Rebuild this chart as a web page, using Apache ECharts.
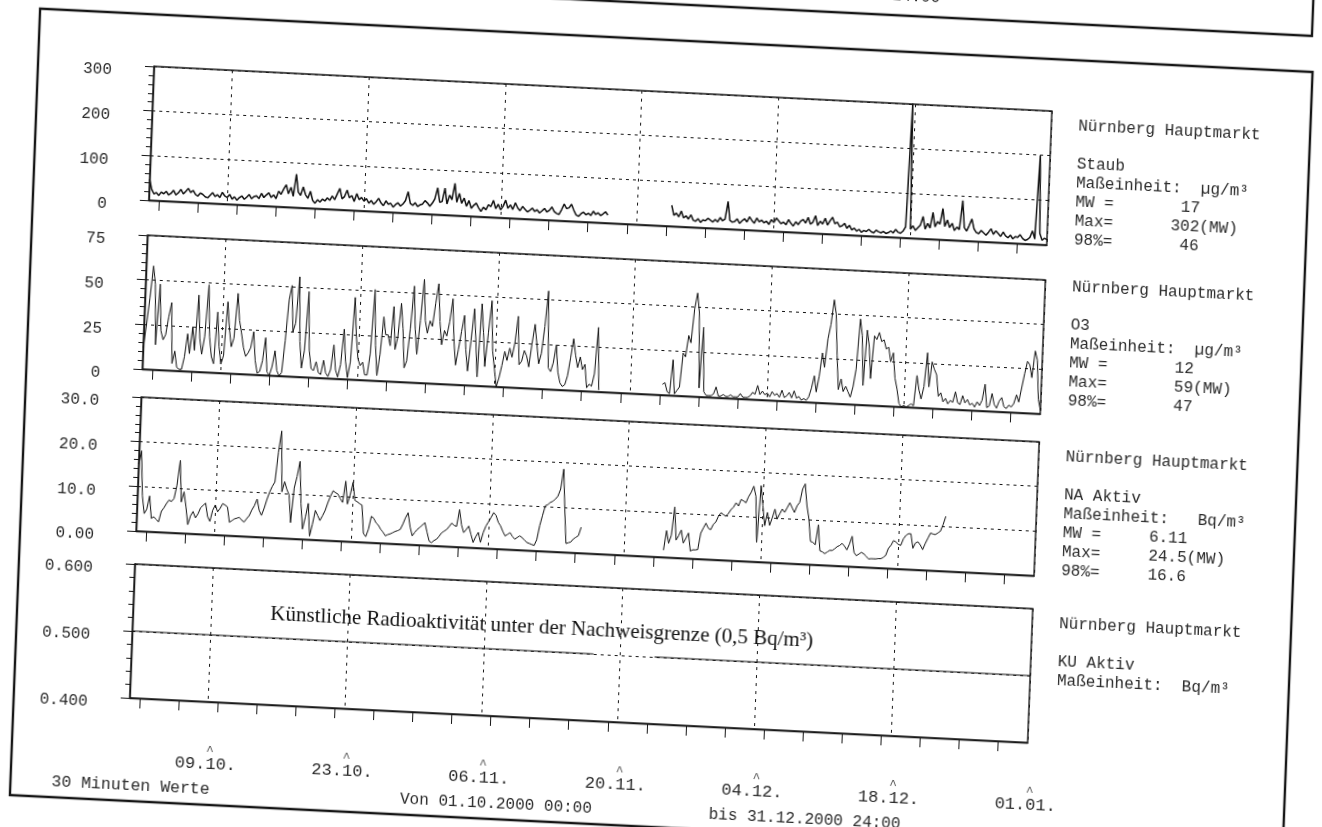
<!DOCTYPE html>
<html>
<head>
<meta charset="utf-8">
<script src="https://cdn.jsdelivr.net/npm/echarts@6/dist/echarts.min.js"></script>
<style>
  html, body { margin: 0; padding: 0; background: #fff; overflow: hidden; width: 1322px; height: 827px; }
  /* the printed sheet sits slightly turned on the page */
  #sheet { position: absolute; left: -40px; top: -40px; width: 1402px; height: 907px;
           transform: matrix(0.99876, 0.04972, -0.03839, 0.99926, 0, 0); transform-origin: 50% 50%; background: #fff; }
</style>
</head>
<body>
<div id="sheet"></div>
<script>
// ---- time axis (days since 01.10.2000 00:00) ----
const STEP = 0.25; // one value every 6 hours
const dayLabelDays = [8, 22, 36, 50, 64, 78, 92];
const dayLabels = ['09.10.', '23.10.', '06.11.', '20.11.', '04.12.', '18.12.', '01.01.'];
const minorTickDays = [1, 5, 9, 13, 17, 21, 25, 29, 33, 37, 41, 45, 49, 53, 57, 61, 65, 69, 73, 77, 81, 85, 89];

// ---- y tick labels ----
const staubTickLabels = ['0', '100', '200', '300'];
const o3TickLabels = ['0', '25', '50', '75'];
const naTickLabels = ['0.00', '10.0', '20.0', '30.0'];
const kuTickLabels = ['0.400', '0.500', '0.600'];

// ---- Staub (µg/m³) ----
const staubStarts = [0, 53.5];
const staubA = [
  47, 25, 15, 18,  12, 20, 16, 22,  14, 18, 25, 15,  20, 28, 18, 24,  31, 22, 27, 18,
  15, 22, 19, 14,  12, 18, 24, 16,  20, 14, 26, 18,  15, 22, 12, 17,  10, 16, 20, 13,
  18, 24, 15, 20,  22, 16, 28, 19,  25, 30, 20, 26,  18, 35, 28, 40,  50, 30, 45, 25,
  75, 35, 28, 47,  30, 22, 38, 18,  12, 20, 15, 22,  18, 25, 20, 30,  22, 35, 48, 25,
  30, 45, 28, 33,  20, 38, 25, 30,  22, 28, 18, 24,  16, 22, 30, 20,  14, 25, 18, 20,
  12, 18, 22, 15,  20, 28, 48, 22,  18, 24, 16, 20,  22, 30, 25, 18,  25, 35, 60, 28,
  30, 60, 25, 45,  35, 72, 30, 50,  28, 40, 22, 35,  18, 25, 30, 20,  12, 22, 16, 28,
  24, 38, 20, 30,  18, 26, 40, 22,  30, 20, 35, 24,  18, 28, 22, 16,  20, 25, 18, 22,
  15, 20, 26, 18,  22, 30, 20, 16,  14, 25, 38, 28,  30, 38, 25, 15,  12, 18, 22, 16,
  20, 15, 25, 18,  22, 16, 20, 25,  18
];
const staubB = [
  47, 25,
  30, 22, 35, 20,  25, 18, 28, 16,  14, 20, 12, 18,  16, 22, 18, 14,  20, 15, 25, 18,
  22, 62, 20, 16,  18, 24, 14, 20,  25, 18, 30, 22,  16, 28, 20, 24,  18, 22, 15, 26,
  20, 30, 24, 18,  22, 16, 28, 20,  14, 24, 18, 26,  30, 22, 35, 20,  25, 40, 18, 28,
  22, 35, 20, 30,  38, 24, 28, 18,  20, 26, 15, 22,  12, 16, 10, 14,   8, 12, 10, 15,
  10,  8, 14, 11,   9, 12,  8, 10,  14, 10, 18, 12,  10, 15, 25, 302, 20, 28, 18, 24,
  30, 50, 22, 35,  25, 60, 28, 40,  35, 70, 30, 45,  28, 38, 22, 30,  25, 90, 30, 22,
  35, 50, 28, 20,  18, 25, 20, 15,  22, 30, 18, 26,  20, 14, 24, 16,  12, 18, 10, 15,
  14, 20, 12,  8,  10, 15, 30, 12,  200, 25, 10, 15,
  12
];

// ---- O3 (µg/m³) ----
const o3Starts = [0, 53.25];
const o3A = [
  12, 25, 40, 58,  48, 14, 48, 22,  17, 20, 30, 38,   4, 11,  2,  1,   1,  8, 21, 10,
  25, 12, 43, 19,  10, 20, 49, 20,   9,  5, 34, 15,   5, 10, 40, 25,  15, 20, 45, 30,
  23, 15, 10, 12,  15, 24,  8,  1,   2,  8, 21,  2,   0,  5, 14,  3,   0,  2, 20, 43,
  51, 25, 30, 56,  20,  5, 15, 48,  15,  5,  4,  9,   3,  2, 10,  3,   1,  5, 19,  5,
   1,  8, 28, 10,   1, 10, 46, 25,  12,  8, 10,  3,   3, 15, 51, 20,   3, 15, 36, 26,
  26, 20, 42, 18,  25, 44, 30,  8,  12, 30, 54, 30,  16, 35, 58, 35,  28, 35, 32, 45,
  56, 35, 22, 30,  27, 35, 48, 25,  11, 20, 30, 39,  20,  8, 25, 43,  25,  5, 46, 30,
  11, 30, 48, 20,  10,  0,  5, 12,  20, 15, 22, 17,  25, 40, 13, 15,  21, 18, 12, 25,
  36, 25, 14, 20,  35, 55, 12, 10,  15, 25, 10,  4,   2,  3,  8, 18,  29, 20, 13, 19,
  12, 15,  2,  4,   3, 10, 36,  1
];
const o3B = [
   6,  7,  2,
   1, 20,  1,  3,   5, 24, 22, 34,  30, 49, 58, 47,   5, 39,  3,  1,   1,  1,  2,  6,
   1,  1,  2,  1,   1,  2,  1,  1,   1,  3,  1,  1,   1,  2,  4,  3,   8,  3,  5,  3,
   4,  2,  5,  3,   4,  2,  6,  2,   3,  5,  2,  6,   2,  3,  1,  2,   1,  3,  8, 15,
   6, 15, 28, 20,  36, 44, 58, 50,  27,  8, 14,  7,  10,  7,  4, 10,  20, 48, 39, 11,
  42, 33, 15, 39,  37, 41, 36, 37,  32, 33, 25, 30,  16, 10,  2,  0,   1,  0,  1,  2,
   1, 18, 10,  5,  12, 31, 12, 26,  22, 19,  7,  9,   4,  6,  3,  5,   4, 10,  4,  3,
   8,  4,  6,  3,   4,  2,  5,  3,   6, 15,  2,  3,  10,  4,  2,  6,   8,  3,  2,  4,
   3,  5, 10,  6,  14, 22, 29, 27,  20, 35, 30,  8,
   2
];

// ---- NA Aktiv (Bq/m³) ----
const naStarts = [0, 54];
const naA = [
  15, 18, 8, 4,  5, 8, 3, 3.4,  2.8, 2.3, 4.7, 5.5,  6.5, 7.3, 7, 7.7,  10.7, 16.3, 7, 9.3,
  6, 2, 4, 5,  3.6, 4.5, 5.9, 6.5,  7, 4, 3, 5.5,  6.7, 5.2, 6, 7.1,  6.8, 6.4, 3, 3.4,
  3.8, 4, 4.2, 3.6,  3.2, 4, 4.7, 6,  7, 8.5, 6, 4.9,  6.5, 8.5, 10.2, 11.5,  12.5, 19.2, 24, 10.4,
  12.7, 11, 9.8, 3.6,  11.4, 14, 17.4, 8,  2.3, 5, 8.1, 0.8,  3.5, 6.6, 5.5, 4.4,  5.5, 6.7, 8.5, 10,
  11.2, 10.8, 10.5, 9.5,  8.7, 13.5, 8.4, 10.5,  13.3, 9.3, 9, 8.6,  8.3, 2, 1.3, 3,  5.9, 5.5, 4.5, 4,
  3.1, 2.5, 1.7, 2,  2.2, 2.5, 2.8, 3,  3.3, 4.5, 6, 7.1,  4, 2, 2.8, 3.5,  4, 4.5, 5.1, 3,
  1, 0.7, 1.2, 1.5,  2.2, 3, 3.4, 3.8,  4.5, 5.3, 4.8, 4.6,  8.4, 5, 3.3, 4,  4.8, 3, 1.2, 2.5,
  3.5, 1.3, 3.5, 5,  6, 7, 8.1, 7.5,  6, 5.2, 4, 3,  3.4, 3.8, 3, 2.4,  2.8, 3.2, 2.8, 2.3,
  1.8, 1.6, 1.4, 1.2,  2.5, 5.7, 8, 10.2,  10.5, 11, 11.3, 11.8,  12.5, 14.1, 18.6, 9.8,  2, 2.2, 2.4, 3.1,
  3.5, 3.9, 5.8
];
const naB = [
  1.6, 6, 3.2, 5,  11.4, 4, 5, 6.3,  3.4, 4.5, 5.7, 1.7,  2, 2, 2.1, 5.8,  7, 8.1, 7, 6.7,
  7.9, 8.5, 9.8, 10.6,  10.2, 9.9, 10.5, 11.4,  12, 13, 12.3, 13.8,  13.5, 13.1, 14.5, 15.5,  16.9, 14.7, 4.4, 17.1,
  12.6, 8.2, 11.2, 8.3,  10, 12, 9.8, 11,  12.1, 11.4, 12.5, 13.6,  12.5, 11.5, 13, 13.8,  16.8, 18, 13.2, 10.3,
  5.2, 5, 4.5, 9,  3.2, 3, 2.6, 3,  3.4, 3.4, 3.8, 4.3,  4.6, 5.1, 4.5, 3.7,  5, 6.8, 3.2, 2.5,
  2.9, 3.3, 3, 2.5,  1.9, 2, 2, 2,  2.1, 2.1, 2.4, 2.9,  4.5, 5.2, 6.3, 6,  5.5, 5.3, 6.8, 7.6,
  8, 8, 4.8, 6,  6.3, 5.6, 4.6, 6,  7.2, 8.4, 8.2, 8.1,  8.5, 8.9, 10.4, 12.3
];

// ---- KU Aktiv (Bq/m³): reported at the detection limit ----
const kuSegments = [[0, 47.25], [53.5, 92]];
const kuLevel = 0.5;

// ---- side captions ----
const staubCaption = ['Nürnberg Hauptmarkt', '', 'Staub', 'Maßeinheit:  µg/m³', 'MW =       17', 'Max=      302(MW)', '98%=       46'];
const o3Caption = ['Nürnberg Hauptmarkt', '', 'O3', 'Maßeinheit:  µg/m³', 'MW =       12', 'Max=       59(MW)', '98%=       47'];
const naCaption = ['Nürnberg Hauptmarkt', '', 'NA Aktiv', 'Maßeinheit:   Bq/m³', 'MW =     6.11', 'Max=     24.5(MW)', '98%=     16.6'];
const kuCaption = ['Nürnberg Hauptmarkt', '', 'KU Aktiv', 'Maßeinheit:  Bq/m³'];
const kuNote = 'Künstliche Radioaktivität unter der Nachweisgrenze (0,5 Bq/m³)';

// ---------------------------------------------------------------
function buildLine(starts, parts) {
  const pts = [];
  parts.forEach((vals, k) => {
    if (k > 0) pts.push([starts[k] - STEP, null]);
    vals.forEach((v, i) => pts.push([starts[k] + i * STEP, v]));
  });
  return pts;
}
function buildLevel(segments, level) {
  const pts = [];
  segments.forEach((seg, k) => {
    if (k > 0) pts.push([(segments[k - 1][1] + seg[0]) / 2, null]);
    pts.push([seg[0], level], [seg[1], level]);
  });
  return pts;
}

const INK = '#161616';
const TEXT = '#2a2a2a';
const MONO = '"Liberation Mono", "DejaVu Sans Mono", monospace';
const NBSP = '\u00a0';
const GRID_LEFT = 181, GRID_WIDTH = 899, GRID_H = 134;
const panels = [
  { top: 132, min: 0,   max: 300, interval: 100, labels: staubTickLabels, data: buildLine(staubStarts, [staubA, staubB]), width: 1.5, caption: staubCaption, captionShift: 4 },
  { top: 301, min: 0,   max: 75,  interval: 25,  labels: o3TickLabels,    data: buildLine(o3Starts, [o3A, o3B]),          width: 1.0, caption: o3Caption, captionShift: -4 },
  { top: 463, min: 0,   max: 30,  interval: 10,  labels: naTickLabels,    data: buildLine(naStarts, [naA, naB]),          width: 1.0, caption: naCaption, captionShift: 4 },
  { top: 630, min: 0.4, max: 0.6, interval: 0.1, labels: kuTickLabels,    data: buildLevel(kuSegments, kuLevel),          width: 1.2, caption: kuCaption, captionShift: 4 }
];

// date label with the small printer caret above it
function dateLabel(v) {
  const text = dayLabels[dayLabelDays.indexOf(Math.round(v))];
  return '{c|' + NBSP.repeat(3) + '^' + NBSP.repeat(2) + '}\n{d|' + text + '}';
}

const grid = [], xAxis = [], yAxis = [], series = [], graphic = [];
panels.forEach((p, i) => {
  grid.push({ left: GRID_LEFT, width: GRID_WIDTH, top: p.top, height: GRID_H, show: true,
              borderColor: INK, borderWidth: 1.4, backgroundColor: 'transparent' });
  // bottom line with the short day ticks
  xAxis.push({
    type: 'value', gridIndex: i, min: 0, max: 92, position: 'bottom',
    axisLine: { show: true, onZero: false, lineStyle: { color: INK, width: 1.4 } },
    axisTick: { show: true, customValues: minorTickDays, length: 10, lineStyle: { color: INK, width: 1 } },
    axisLabel: { show: false }, splitLine: { show: false }
  });
  // two-week grid lines and the date labels
  xAxis.push({
    type: 'value', gridIndex: i, min: 0, max: 92, position: 'bottom',
    axisLine: { show: false },
    axisTick: { show: false, customValues: dayLabelDays },
    axisLabel: { show: i === 3, customValues: dayLabelDays, margin: 47,
                 formatter: dateLabel,
                 rich: {
                   c: { fontFamily: MONO, fontSize: 13, lineHeight: 5, color: '#555' },
                   d: { fontFamily: MONO, fontSize: 17, lineHeight: 20, color: TEXT }
                 } },
    splitLine: { show: true, lineStyle: { color: INK, width: 1, type: [3, 5] } }
  });
  // value labels sit a little below their ticks, as typed
  yAxis.push({
    type: 'value', gridIndex: i, min: p.min, max: p.max, interval: p.interval,
    axisLine: { show: true, onZero: false, lineStyle: { color: INK, width: 1.4 } },
    axisTick: { show: true, length: 9, lineStyle: { color: INK, width: 1 } },
    minorTick: { show: true, splitNumber: 5, length: 5, lineStyle: { color: INK, width: 1 } },
    axisLabel: { margin: 42,
                 formatter: v => '{g|}\n{t|' + p.labels[Math.round((v - p.min) / p.interval)] + '}',
                 rich: {
                   g: { fontSize: 10, lineHeight: 12 },
                   t: { fontFamily: MONO, fontSize: 16, lineHeight: 16, color: TEXT }
                 } },
    splitLine: { show: true, lineStyle: { color: INK, width: 1.1, type: [3, 4] } }
  });
  series.push({
    type: 'line', xAxisIndex: 2 * i, yAxisIndex: i, data: p.data,
    showSymbol: false, connectNulls: false, clip: true,
    lineStyle: { color: '#111', width: p.width }, z: 3
  });
  graphic.push({
    type: 'text', left: 1107, top: p.top + p.captionShift,
    style: { text: p.caption.join('\n'), font: '16px ' + MONO, lineHeight: 19, fill: TEXT }
  });
});

// sheet frame, the edge of the sheet above and the footer line
graphic.push(
  { type: 'rect', shape: { x: 65, y: 80, width: 1274, height: 787 },
    style: { fill: null, stroke: INK, lineWidth: 2.4 }, z: 1 },
  { type: 'polyline', shape: { points: [[0, 44], [1337, 44], [1337, 0]] },
    style: { fill: null, stroke: INK, lineWidth: 2.4 }, z: 1 },
  { type: 'text', x: 940, y: 25, style: { text: '24:00', font: '16px ' + MONO, fill: TEXT, align: 'center', verticalAlign: 'middle' } },
  { type: 'text', x: 590, y: 673,
    style: { text: kuNote, font: '21px "Liberation Serif", "Times New Roman", serif', fill: '#111', align: 'center', verticalAlign: 'middle' }, z: 10 },
  { type: 'text', x: 106, y: 852, style: { text: '30 Minuten Werte', font: '16.5px ' + MONO, fill: TEXT, verticalAlign: 'middle' } },
  { type: 'text', x: 455, y: 852, style: { text: 'Von 01.10.2000 00:00', font: '16px ' + MONO, fill: TEXT, verticalAlign: 'middle' } },
  { type: 'text', x: 764, y: 852, style: { text: 'bis 31.12.2000 24:00', font: '16px ' + MONO, fill: TEXT, verticalAlign: 'middle' } }
);

const chart = echarts.init(document.getElementById('sheet'), null, { renderer: 'canvas' });
chart.setOption({
  animation: false,
  backgroundColor: '#fff',
  grid, xAxis, yAxis, series, graphic
});
</script>
</body>
</html>
